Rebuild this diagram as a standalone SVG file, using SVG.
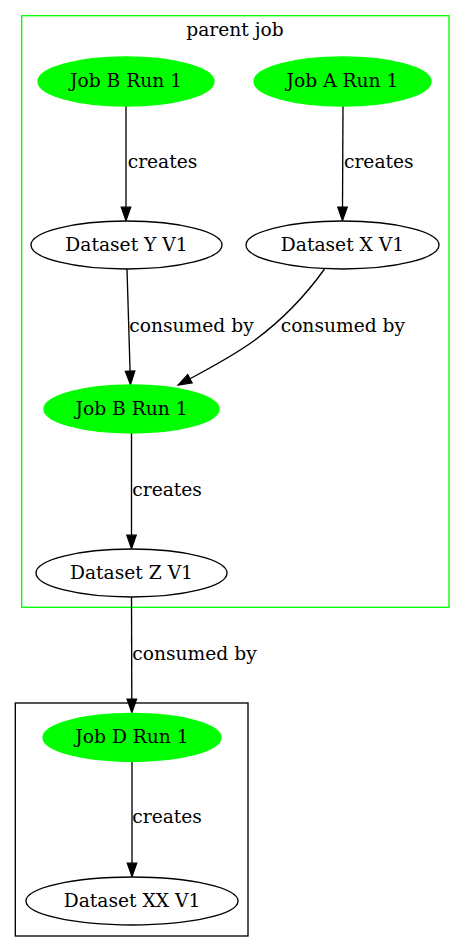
<svg xmlns="http://www.w3.org/2000/svg" width="465" height="952" viewBox="0 0 465 952">
<style>
text{font-family:"DejaVu Serif",serif;font-size:18.67px;fill:#000}
.n text{text-anchor:middle}
.job ellipse{fill:#00ff00;stroke:#00ff00;stroke-width:1.33}
.ds ellipse{fill:#fff;stroke:#000;stroke-width:1.33}
.e path{fill:none;stroke:#000;stroke-width:1.33;marker-end:url(#ah)}
</style>
<defs>
<marker id="ah" markerUnits="userSpaceOnUse" markerWidth="16" markerHeight="12" refX="0.5" refY="5" orient="auto" viewBox="-1 0 16 10">
<path d="M0,0.33 L13.33,5 L0,9.67 z" fill="#000" stroke="#000" stroke-width="1.33"/>
</marker>
</defs>
<rect fill="#fff" width="465" height="952"/>
<g id="cluster_parent">
<rect x="21.7" y="15.7" width="427.3" height="591.6" fill="none" stroke="#00ff00" stroke-width="1.33"/>
<text x="235" y="36" text-anchor="middle">parent job</text>
</g>
<g id="cluster_d">
<rect x="15.3" y="703" width="232.7" height="233" fill="none" stroke="#000" stroke-width="1.33"/>
</g>
<g id="edges" class="e">
<path d="M126,106 L126,207.7"/>
<text x="127.7" y="168">creates</text>
<path d="M343,106 L342.5,207.7"/>
<text x="344" y="168">creates</text>
<path d="M127,269 L130.1,371.7"/>
<text x="129.3" y="332">consumed by</text>
<path d="M324.5,269 C306,295 282,320 255,340 C236,354 212,367 189.5,379"/>
<text x="280.7" y="332">consumed by</text>
<path d="M131.5,433 L131.5,535.7"/>
<text x="132.3" y="496">creates</text>
<path d="M131.5,597 L131.8,699.7"/>
<text x="132.3" y="660">consumed by</text>
<path d="M132,761 L132,863.7"/>
<text x="132.3" y="823">creates</text>
</g>
<g id="jobB1" class="n job"><ellipse cx="126" cy="81.5" rx="88" ry="24.5"/><text x="126" y="87">Job B Run 1</text></g>
<g id="jobA1" class="n job"><ellipse cx="342.5" cy="81.5" rx="88.5" ry="24.5"/><text x="342.5" y="87">Job A Run 1</text></g>
<g id="datasetY" class="n ds"><ellipse cx="126.5" cy="245" rx="95.5" ry="24"/><text x="126.5" y="250.5">Dataset Y V1</text></g>
<g id="datasetX" class="n ds"><ellipse cx="342.5" cy="245" rx="96.5" ry="24"/><text x="342.5" y="250.5">Dataset X V1</text></g>
<g id="jobB2" class="n job"><ellipse cx="131.5" cy="409" rx="87.5" ry="24"/><text x="131.5" y="414.5">Job B Run 1</text></g>
<g id="datasetZ" class="n ds"><ellipse cx="131.5" cy="573" rx="95.5" ry="24"/><text x="131.5" y="578.5">Dataset Z V1</text></g>
<g id="jobD1" class="n job"><ellipse cx="132" cy="737.5" rx="89" ry="24"/><text x="132" y="743">Job D Run 1</text></g>
<g id="datasetXX" class="n ds"><ellipse cx="132" cy="901" rx="106" ry="24"/><text x="132" y="906.5">Dataset XX V1</text></g>
</svg>
